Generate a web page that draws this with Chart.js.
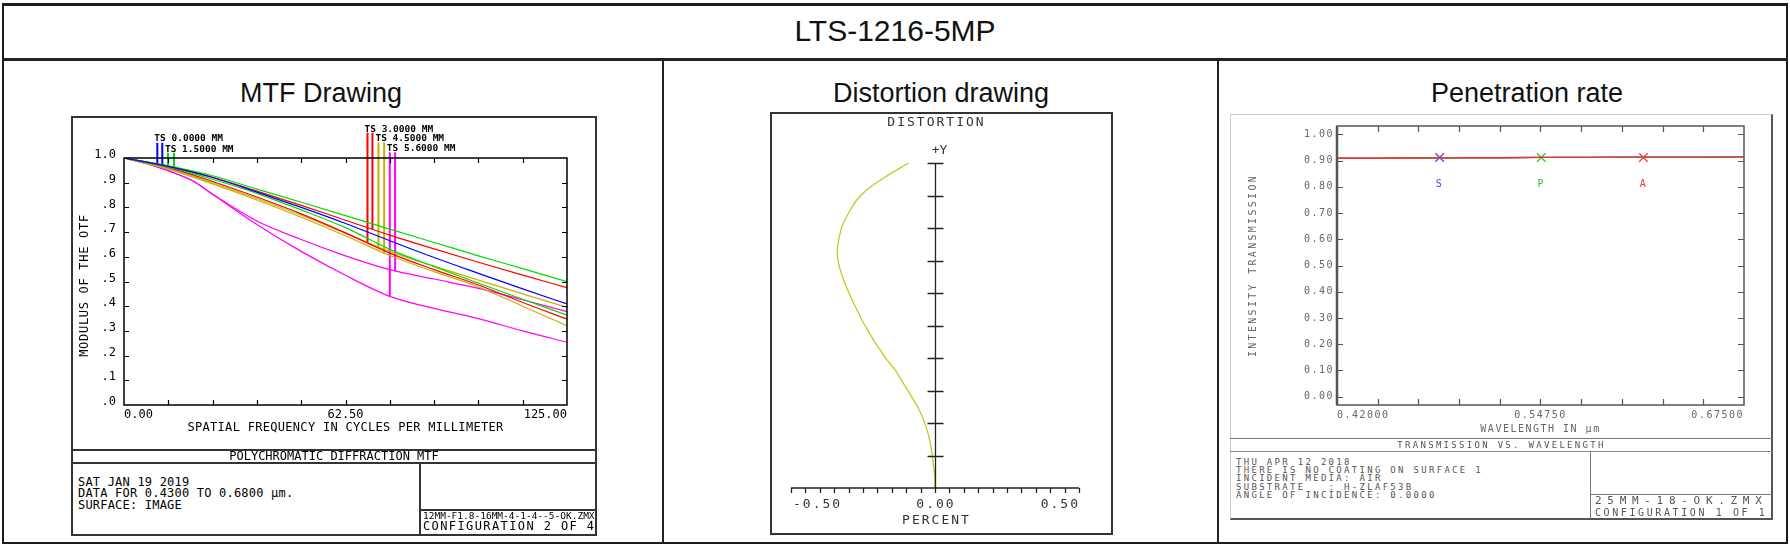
<!DOCTYPE html>
<html>
<head>
<meta charset="utf-8">
<script src="https://cdn.jsdelivr.net/npm/chart.js@4.4.0/dist/chart.umd.min.js"></script>
<style>
  body { margin: 0; width: 1790px; height: 549px; background: #fff; position: relative; overflow: hidden; font-family: "Liberation Sans", Arial, sans-serif; }
  .a { position: absolute; box-sizing: border-box; }
  .ln { position: absolute; background: #222; }
  .z { position: absolute; white-space: pre; font-family: "DejaVu Sans Mono", monospace; }
  canvas { position: absolute; }
</style>
</head>
<body>

<!-- outer frame + header -->
<div class="a" style="left:2px;top:3px;width:1786px;height:541px;border:2px solid #1c1c1c;border-top-width:3px"></div>
<div class="ln" style="left:2px;top:58px;width:1786px;height:3px"></div>
<div class="ln" style="left:662px;top:60px;width:2px;height:483px"></div>
<div class="ln" style="left:1217px;top:60px;width:2px;height:483px"></div>
<div class="a" style="left:0;top:14px;width:1790px;text-align:center;font-size:30px;line-height:34px;color:#111">LTS-1216-5MP</div>
<div class="a" style="left:221px;top:78px;width:200px;text-align:center;font-size:27px;line-height:30px;color:#111">MTF Drawing</div>
<div class="a" style="left:791px;top:78px;width:300px;text-align:center;font-size:27px;line-height:30px;color:#111">Distortion drawing</div>
<div class="a" style="left:1377px;top:78px;width:300px;text-align:center;font-size:27px;line-height:30px;color:#111">Penetration rate</div>

<!-- MTF panel -->
<div class="a" style="left:71px;top:116px;width:526px;height:420px;border:2px solid #333"></div>
<canvas id="mtf" width="522" height="332" style="left:73px;top:118px"></canvas>
<div class="a" style="left:71px;top:449px;width:526px;height:15px;border-top:2px solid #333;border-bottom:2px solid #333"></div>
<div class="z" style="left:71px;top:451px;width:526px;text-align:center;font-size:12px;line-height:11px">POLYCHROMATIC DIFFRACTION MTF</div>
<div class="ln" style="left:419px;top:463px;width:2px;height:72px;background:#333"></div>
<div class="ln" style="left:420px;top:509px;width:176px;height:2px;background:#333"></div>
<div class="z" style="left:78px;top:477px;font-size:12px;line-height:11.3px;letter-spacing:0.2px">SAT JAN 19 2019
DATA FOR 0.4300 TO 0.6800 µm.
SURFACE: IMAGE</div>
<div class="z" style="left:423px;top:511px;font-size:9.5px;line-height:10px">12MM-F1.8-16MM-4-1-4--5-OK.ZMX</div>
<div class="z" style="left:423px;top:520px;font-size:12px;line-height:12px;letter-spacing:1.4px">CONFIGURATION 2 OF 4</div>

<!-- distortion panel -->
<div class="a" style="left:770px;top:112px;width:343px;height:423px;border:2px solid #333"></div>
<canvas id="dist" width="339" height="419" style="left:772px;top:114px"></canvas>

<!-- penetration panel -->
<div class="a" style="left:1230px;top:114px;width:543px;height:406px;border-top:1px solid #ccc;border-left:1px solid #ccc;border-right:2px solid #555;border-bottom:2px solid #555"></div>
<canvas id="pen" width="540" height="324" style="left:1231px;top:115px"></canvas>
<div class="a" style="left:1230px;top:438px;width:543px;height:14px;border-top:1.5px solid #777;border-bottom:1px solid #888"></div>
<div class="z" style="left:1230px;top:439px;width:543px;text-align:center;color:#555;font-size:9px;line-height:12px;letter-spacing:2.3px">TRANSMISSION VS. WAVELENGTH</div>
<div class="ln" style="left:1590px;top:451px;width:1px;height:68px;background:#777"></div>
<div class="ln" style="left:1590px;top:494px;width:182px;height:1px;background:#777"></div>
<div class="z" style="left:1236px;top:458px;color:#555;font-size:9px;line-height:8.2px;letter-spacing:2.3px">THU APR 12 2018
THERE IS NO COATING ON SURFACE 1
INCIDENT MEDIA: AIR
SUBSTRATE   : H-ZLAF53B
ANGLE OF INCIDENCE: 0.0000</div>
<div class="z" style="left:1595px;top:495px;color:#555;font-size:11px;line-height:11px;letter-spacing:5.7px">25MM-18-OK.ZMX</div>
<div class="z" style="left:1595px;top:507px;color:#555;font-size:10px;line-height:11px;letter-spacing:2.6px">CONFIGURATION 1 OF 1</div>

<script>
// ---------- MTF ----------
const MTF_FREQ = [0, 12.5, 25, 37.5, 50, 62.5, 75, 87.5, 100, 112.5, 125];
const MTF_F00   = [1, 0.966, 0.921, 0.862, 0.800, 0.735, 0.665, 0.597, 0.533, 0.470, 0.409];
const MTF_F15_T = [1, 0.968, 0.928, 0.874, 0.821, 0.767, 0.712, 0.658, 0.604, 0.552, 0.499];
const MTF_F15_S = [1, 0.964, 0.914, 0.857, 0.790, 0.718, 0.630, 0.560, 0.493, 0.428, 0.364];
const MTF_F30_T = [1, 0.966, 0.922, 0.866, 0.808, 0.748, 0.688, 0.632, 0.578, 0.526, 0.475];
const MTF_F30_S = [1, 0.962, 0.905, 0.842, 0.774, 0.697, 0.615, 0.548, 0.486, 0.415, 0.348];
const MTF_F45_T = [1, 0.958, 0.900, 0.836, 0.768, 0.695, 0.622, 0.562, 0.506, 0.450, 0.395];
const MTF_F45_S = [1, 0.955, 0.895, 0.830, 0.760, 0.685, 0.605, 0.540, 0.478, 0.400, 0.321];
// the 5.6 mm field drops early, so it has its own frequency samples
const MTF_FREQ_56 = [0, 9.2, 14.9, 19.6, 24.3, 37.5, 50, 62.5, 75, 87.5, 100, 112.5, 125];
const MTF_F56_T = [1, 0.965, 0.935, 0.906, 0.860, 0.745, 0.670, 0.604, 0.548, 0.510, 0.472, 0.426, 0.378];
const MTF_F56_S = [1, 0.965, 0.935, 0.906, 0.860, 0.731, 0.622, 0.525, 0.440, 0.391, 0.350, 0.300, 0.254];

const FIELD_LABELS = ["TS 0.0000 MM", "TS 1.5000 MM", "TS 3.0000 MM", "TS 4.5000 MM", "TS 5.6000 MM"];
const FIELD_COLORS = ["#0000ff", "#00dd00", "#ff0000", "#c8b000", "#ff00ff"];
const MARK_X = [[9.4, 10.8], [12.4, 14.1], [68.7, 70.1], [71.8, 73.4], [75.0, 76.5]];
const MARK_TOP = [1.062, 1.021, 1.102, 1.063, 1.023];
const MARK_BOTTOM = [[0.972, 0.971], [0.966, 0.962], [0.655, 0.711], [0.641, 0.611], [0.438, 0.540]];

const MTF_Y_TICKS = [0, 0.1, 0.2, 0.3, 0.4, 0.5, 0.6, 0.7, 0.8, 0.9, 1.0];
const MTF_Y_LABELS = [".0", ".1", ".2", ".3", ".4", ".5", ".6", ".7", ".8", ".9", "1.0"];
const MTF_X_LABELS = ["0.00", "62.50", "125.00"];
const MTF_X_LABEL_AT = [0, 62.5, 125];

// ---------- Distortion ----------
const DIST_FIELD = [0, 0.034, 0.075, 0.116, 0.157, 0.198, 0.239, 0.281, 0.322, 0.363, 0.394, 0.424, 0.455, 0.486,
  0.517, 0.548, 0.579, 0.609, 0.640, 0.671, 0.702, 0.733, 0.764, 0.805, 0.846, 0.887, 0.918, 0.957, 1.0];
const DIST_PCT = [0, -0.001, -0.006, -0.012, -0.021, -0.035, -0.054, -0.081, -0.110, -0.138, -0.167, -0.190, -0.213, -0.234,
  -0.254, -0.271, -0.288, -0.303, -0.317, -0.329, -0.337, -0.339, -0.334, -0.323, -0.300, -0.271, -0.236, -0.173, -0.092];
const DIST_X_LABELS = ["-0.50", "0.00", "0.50"];
const DIST_X_LABEL_AT = [-0.5, 0, 0.5];

// ---------- Transmission ----------
const WAVE = [0.42, 0.4455, 0.471, 0.4965, 0.522, 0.5475, 0.573, 0.5985, 0.624, 0.6495, 0.675];
const TRANS_S = [0.909, 0.909, 0.910, 0.911, 0.911, 0.912, 0.912, 0.913, 0.913, 0.913, 0.914];
const TRANS_P = [0.909, 0.909, 0.910, 0.911, 0.911, 0.912, 0.912, 0.913, 0.913, 0.913, 0.914];
const TRANS_A = [0.909, 0.909, 0.910, 0.911, 0.911, 0.912, 0.912, 0.913, 0.913, 0.913, 0.914];
const POL_LABELS = ["S", "P", "A"];
const POL_COLORS = ["#4040ff", "#30c030", "#ff3030"];
const POL_MARK_X = [0.4843, 0.548, 0.612];
const POL_MARK_Y = [0.912, 0.912, 0.912];
const PEN_Y_TICKS = [0, 0.1, 0.2, 0.3, 0.4, 0.5, 0.6, 0.7, 0.8, 0.9, 1.0];
const PEN_Y_LABELS = ["0.00", "0.10", "0.20", "0.30", "0.40", "0.50", "0.60", "0.70", "0.80", "0.90", "1.00"];
const PEN_X_TICKS = [0.42, 0.4455, 0.471, 0.4965, 0.522, 0.5475, 0.573, 0.5985, 0.624, 0.6495, 0.675];
const PEN_X_LABELS = ["0.42000", "0.54750", "0.67500"];
const PEN_X_LABEL_AT = [0.42, 0.5475, 0.675];

const MONO = '"DejaVu Sans Mono", monospace';
const pts = (xs, ys) => xs.map((x, i) => ({ x, y: ys[i] }));
const base = {
  responsive: false, animation: false, devicePixelRatio: 1, events: [],
  plugins: { legend: { display: false }, tooltip: { enabled: false } }
};
// first / middle / last label alignment used by the Zemax style axes
const edgeAlign = (i, n) => (i === 0 ? "left" : i === n - 1 ? "right" : "center");

// inward tick marks on all four sides of the plot
function innerTicks(ctx, area, xs, ys, xScale, yScale, len) {
  ctx.beginPath();
  xs.forEach(v => {
    const p = Math.round(xScale.getPixelForValue(v)) + 0.5;
    ctx.moveTo(p, area.top); ctx.lineTo(p, area.top + len);
    ctx.moveTo(p, area.bottom); ctx.lineTo(p, area.bottom - len);
  });
  ys.forEach(v => {
    const p = Math.round(yScale.getPixelForValue(v)) + 0.5;
    ctx.moveTo(area.left, p); ctx.lineTo(area.left + len, p);
    ctx.moveTo(area.right, p); ctx.lineTo(area.right - len, p);
  });
  ctx.stroke();
}

// === MTF chart ===
const mtfDecor = {
  id: "mtfDecor",
  afterDatasetsDraw(chart) {
    const { ctx, chartArea: a, scales: { x, y } } = chart;
    ctx.save();
    ctx.strokeStyle = "#000";
    ctx.lineWidth = 1.5;
    ctx.strokeRect(a.left, a.top, a.right - a.left, a.bottom - a.top);
    ctx.lineWidth = 1.2;
    innerTicks(ctx, a, MTF_FREQ.slice(1, -1), MTF_Y_TICKS.slice(1, -1), x, y, 5);

    ctx.fillStyle = "#000";
    ctx.font = "12px " + MONO;
    ctx.textAlign = "right";
    ctx.textBaseline = "middle";
    MTF_Y_TICKS.forEach((v, i) => ctx.fillText(MTF_Y_LABELS[i], a.left - 8, y.getPixelForValue(v) - 3));
    MTF_X_LABELS.forEach((t, i) => {
      ctx.textAlign = edgeAlign(i, MTF_X_LABELS.length);
      ctx.fillText(t, x.getPixelForValue(MTF_X_LABEL_AT[i]), a.bottom + 10);
    });
    ctx.textAlign = "center";
    ctx.letterSpacing = "0.3px";
    ctx.fillText("SPATIAL FREQUENCY IN CYCLES PER MILLIMETER", (a.left + a.right) / 2, a.bottom + 23);
    ctx.save();
    ctx.letterSpacing = "0.7px";
    ctx.translate(a.left - 39, (a.top + a.bottom) / 2 + 4);
    ctx.rotate(-Math.PI / 2);
    ctx.fillText("MODULUS OF THE OTF", 0, 0);
    ctx.restore();
    ctx.letterSpacing = "0px";

    ctx.font = "bold 9.5px " + MONO;
    ctx.textAlign = "left";
    ctx.textBaseline = "bottom";
    FIELD_LABELS.forEach((t, f) => {
      ctx.fillText(t, x.getPixelForValue(MARK_X[f][0]) - 3, y.getPixelForValue(MARK_TOP[f]) + 1);
    });
    ctx.restore();
  }
};

const mtfSets = [
  [MTF_FREQ, MTF_F00, 0], [MTF_FREQ, MTF_F15_T, 1], [MTF_FREQ, MTF_F15_S, 1],
  [MTF_FREQ, MTF_F30_T, 2], [MTF_FREQ, MTF_F30_S, 2], [MTF_FREQ, MTF_F45_T, 3], [MTF_FREQ, MTF_F45_S, 3],
  [MTF_FREQ_56, MTF_F56_T, 4], [MTF_FREQ_56, MTF_F56_S, 4]
].map(([fx, vals, f]) => ({
  data: pts(fx, vals), borderColor: FIELD_COLORS[f], borderWidth: 1.2,
  pointRadius: 0, cubicInterpolationMode: "monotone", fill: false
}));
MARK_X.forEach((xs, f) => xs.forEach((mx, k) => mtfSets.push({
  data: [{ x: mx, y: MARK_TOP[f] }, { x: mx, y: MARK_BOTTOM[f][k] }],
  borderColor: FIELD_COLORS[f], borderWidth: 2, pointRadius: 0, clip: false, tension: 0
})));

new Chart(document.getElementById("mtf"), {
  type: "line",
  data: { datasets: mtfSets },
  options: {
    ...base,
    layout: { padding: { left: 51, right: 28, top: 40, bottom: 45 } },
    scales: {
      x: { type: "linear", min: 0, max: 125, display: false },
      y: { min: 0, max: 1, display: false }
    }
  },
  plugins: [mtfDecor]
});

// === Distortion chart ===
const distDecor = {
  id: "distDecor",
  afterDatasetsDraw(chart) {
    const { ctx, chartArea: a, scales: { x, y } } = chart;
    const x0 = Math.round(x.getPixelForValue(0)) + 0.5;
    ctx.save();
    ctx.strokeStyle = "#222";
    ctx.lineWidth = 1.3;
    ctx.beginPath();
    // percent axis with hanging ticks
    ctx.moveTo(a.left, a.bottom); ctx.lineTo(a.right, a.bottom);
    for (let i = 0; i <= 20; i++) {
      const p = Math.round(x.getPixelForValue(-0.5 + i * 0.05)) + 0.5;
      ctx.moveTo(p, a.bottom); ctx.lineTo(p, a.bottom + 5);
    }
    // field axis with crossing ticks
    ctx.moveTo(x0, a.top); ctx.lineTo(x0, a.bottom);
    for (let i = 1; i <= 10; i++) {
      const p = Math.round(y.getPixelForValue(i / 10)) + 0.5;
      ctx.moveTo(x0 - 8, p); ctx.lineTo(x0 + 8, p);
    }
    ctx.stroke();

    ctx.fillStyle = "#333";
    ctx.font = "13px " + MONO;
    ctx.letterSpacing = "2px";
    ctx.textBaseline = "middle";
    DIST_X_LABELS.forEach((t, i) => {
      ctx.textAlign = edgeAlign(i, DIST_X_LABELS.length);
      ctx.fillText(t, x.getPixelForValue(DIST_X_LABEL_AT[i]) + (i === 0 ? 2 : 1), a.bottom + 17);
    });
    ctx.textAlign = "center";
    ctx.fillText("PERCENT", x0 + 1, a.bottom + 33);
    ctx.fillText("DISTORTION", x0 + 1, a.top - 40);
    ctx.letterSpacing = "0px";
    ctx.fillText("+Y", x0 + 4, a.top - 12);
    ctx.restore();
  }
};

new Chart(document.getElementById("dist"), {
  type: "scatter",
  data: { datasets: [{
    data: pts(DIST_PCT, DIST_FIELD), showLine: true, borderColor: "#c8c828", borderWidth: 1.3,
    pointRadius: 0, tension: 0.3
  }] },
  options: {
    ...base,
    layout: { padding: { left: 19, right: 32, top: 49, bottom: 45 } },
    scales: {
      x: { type: "linear", min: -0.5, max: 0.5, display: false },
      y: { type: "linear", min: 0, max: 1, display: false }
    }
  },
  plugins: [distDecor]
});

// === Transmission chart ===
const penDecor = {
  id: "penDecor",
  afterDatasetsDraw(chart) {
    const { ctx, chartArea: a, scales: { x, y } } = chart;
    ctx.save();
    ctx.strokeStyle = "#555";
    ctx.lineWidth = 1.2;
    innerTicks(ctx, a, PEN_X_TICKS.slice(1, -1), PEN_Y_TICKS, x, y, 6);
    ctx.lineWidth = 1.5;
    ctx.strokeRect(a.left, a.top, a.right - a.left, a.bottom - a.top);
    ctx.lineWidth = 2.5;
    ctx.beginPath(); ctx.moveTo(a.left, a.top); ctx.lineTo(a.left, a.bottom); ctx.stroke();

    ctx.fillStyle = "#666";
    ctx.font = "10px " + MONO;
    ctx.letterSpacing = "1.5px";
    ctx.textAlign = "right";
    ctx.textBaseline = "middle";
    PEN_Y_TICKS.forEach((v, i) => ctx.fillText(PEN_Y_LABELS[i], a.left - 3, y.getPixelForValue(v)));
    PEN_X_LABELS.forEach((t, i) => {
      ctx.textAlign = edgeAlign(i, PEN_X_LABELS.length);
      ctx.fillText(t, x.getPixelForValue(PEN_X_LABEL_AT[i]), a.bottom + 10);
    });
    ctx.textAlign = "center";
    ctx.fillText("WAVELENGTH IN μm", (a.left + a.right) / 2, a.bottom + 24);
    ctx.save();
    ctx.letterSpacing = "2.3px";
    ctx.translate(1253 - 1231, (a.top + a.bottom) / 2);
    ctx.rotate(-Math.PI / 2);
    ctx.fillText("INTENSITY TRANSMISSION", 0, 0);
    ctx.restore();
    POL_LABELS.forEach((t, i) => {
      ctx.fillStyle = POL_COLORS[i];
      ctx.fillText(t, x.getPixelForValue(POL_MARK_X[i]), y.getPixelForValue(0.81));
    });
    ctx.restore();
  }
};

// Chart.js paints the first dataset last, so A (red) goes first to sit on top
const penSets = [[TRANS_A, 2], [TRANS_P, 1], [TRANS_S, 0]].map(([vals, i]) => ({
  data: pts(WAVE, vals), borderColor: POL_COLORS[i], borderWidth: 1.3, pointRadius: 0, tension: 0
}));
POL_MARK_X.forEach((mx, i) => penSets.push({
  data: [{ x: mx, y: POL_MARK_Y[i] }], showLine: false, pointStyle: "crossRot", pointRadius: 6,
  borderColor: POL_COLORS[i], borderWidth: 1.2
}));

new Chart(document.getElementById("pen"), {
  type: "line",
  data: { datasets: penSets },
  options: {
    ...base,
    layout: { padding: { left: 106, right: 27, top: 11, bottom: 34 } },
    scales: {
      x: { type: "linear", min: 0.42, max: 0.675, display: false },
      y: { min: -0.032, max: 1.032, display: false }
    }
  },
  plugins: [penDecor]
});
</script>
</body>
</html>
